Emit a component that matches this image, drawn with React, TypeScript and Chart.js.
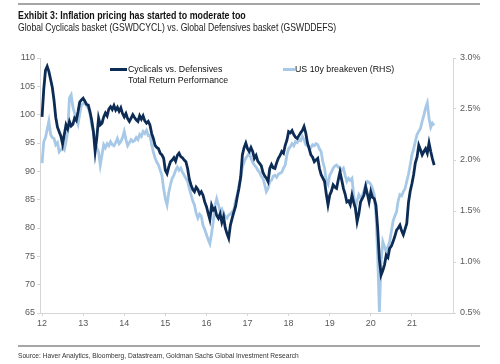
import React, { useEffect, useRef } from "react";
import { Chart, registerables } from "chart.js";

Chart.register(...registerables);

// Semi-monthly observations starting Jan 2012
const START_YEAR = 2012;
const PER_YEAR = 24;

// Cyclicals vs. Defensives total return performance (LHS)
const cyclicalsVsDefensives: number[] = [
  // 2012
  99.6, 104.5, 107.8, 108.5, 107.6, 106.2, 104.8, 102.5, 99.5, 97.8, 97.0, 96.2,
  94.8, 96.5, 98.2, 97.5, 98.8, 98.0, 98.3, 99.4, 99.0, 100.5, 102.2, 102.6,
  // 2013
  102.9, 102.4, 101.8, 101.7, 100.5, 99.0, 97.0, 93.5, 96.0, 99.4, 98.2, 98.5,
  99.6, 100.3, 99.8, 101.0, 101.4, 100.9, 101.6, 100.8, 101.3, 100.6, 101.2, 100.2,
  // 2014
  99.6, 100.2, 99.3, 98.8, 99.4, 100.0, 99.5, 99.1, 98.8, 99.8, 99.2, 99.8,
  98.9, 98.5, 98.8, 98.2, 96.7, 95.8, 94.6, 94.2, 94.0, 93.2, 92.9, 92.3,
  // 2015
  90.2, 89.6, 90.8, 91.7, 92.0, 92.4, 91.8, 92.8, 93.2, 92.6, 92.4, 92.0,
  91.7, 90.5, 88.6, 87.6, 86.8, 86.4, 87.2, 86.8, 86.0, 86.4, 85.8, 84.6,
  // 2016
  83.8, 82.6, 81.5, 84.0, 83.2, 83.5, 82.2, 81.7, 82.5, 81.0, 82.0, 80.0,
  79.0, 78.2, 80.5, 81.7, 82.8, 83.8, 85.5, 87.0, 89.0, 92.9, 94.2, 95.0,
  // 2017
  94.0, 93.5, 94.2, 93.5, 92.3, 92.8, 91.8, 91.4, 91.0, 89.8, 89.2, 88.8,
  88.2, 90.5, 91.2, 90.6, 90.5, 91.5, 92.3, 92.8, 93.5, 93.2, 94.6, 95.5,
  // 2018
  97.0, 96.8, 97.2, 96.5, 96.0, 95.8, 96.3, 96.8, 97.2, 97.9, 96.8, 95.0,
  94.0, 92.9, 92.5, 91.7, 92.0, 92.3, 90.5, 89.4, 88.8, 88.2, 86.0, 84.1,
  // 2019
  85.8, 86.5, 87.6, 87.2, 87.0, 88.5, 89.9, 88.5, 87.0, 86.0, 84.6, 84.8,
  84.1, 85.8, 84.5, 83.5, 81.1, 82.5, 84.6, 85.2, 85.8, 87.3, 86.0, 84.6,
  // 2020
  86.4, 85.4, 85.2, 84.0, 80.0, 74.5, 71.7, 72.5, 73.5, 75.2, 74.8, 76.4,
  76.8, 77.6, 78.5, 79.6, 80.0, 80.5, 79.5, 78.8, 79.8, 80.8, 84.5, 86.5,
  // 2021
  87.8, 89.4, 91.5, 92.5, 94.6, 93.8, 92.9, 93.5, 94.0, 93.2, 95.0, 93.5,
  92.2, 91.1,
];

// US 10y breakeven, % (RHS)
const breakeven10y: number[] = [
  // 2012
  1.97, 2.18, 2.22, 2.30, 2.38, 2.25, 2.22, 2.21, 2.15, 2.17, 2.08, 2.10,
  2.12, 2.10, 2.18, 2.28, 2.61, 2.64, 2.52, 2.46, 2.40, 2.35, 2.45, 2.54,
  // 2013
  2.55, 2.57, 2.53, 2.51, 2.45, 2.34, 2.28, 2.15, 2.12, 2.08, 1.95, 2.05,
  2.15, 2.12, 2.16, 2.14, 2.18, 2.15, 2.14, 2.17, 2.21, 2.16, 2.18, 2.22,
  // 2014
  2.28, 2.20, 2.14, 2.17, 2.20, 2.18, 2.19, 2.22, 2.20, 2.25, 2.23, 2.28,
  2.26, 2.29, 2.24, 2.24, 2.15, 2.08, 2.02, 1.98, 1.95, 1.90, 1.85, 1.72,
  // 2015
  1.62, 1.56, 1.68, 1.76, 1.82, 1.85, 1.90, 1.93, 1.90, 1.92, 1.88, 1.85,
  1.82, 1.79, 1.72, 1.66, 1.60, 1.56, 1.48, 1.43, 1.47, 1.45, 1.36, 1.32,
  // 2016
  1.27, 1.22, 1.18, 1.28, 1.40, 1.55, 1.62, 1.56, 1.50, 1.52, 1.47, 1.45,
  1.43, 1.46, 1.47, 1.49, 1.51, 1.60, 1.66, 1.75, 1.82, 1.93, 1.98, 2.02,
  // 2017
  2.04, 2.07, 2.02, 1.98, 1.95, 1.93, 1.90, 1.88, 1.84, 1.82, 1.76, 1.69,
  1.72, 1.79, 1.80, 1.84, 1.85, 1.83, 1.86, 1.87, 1.88, 1.92, 1.95, 2.05,
  // 2018
  2.11, 2.13, 2.16, 2.14, 2.18, 2.17, 2.20, 2.19, 2.23, 2.20, 2.15, 2.14,
  2.13, 2.12, 2.15, 2.14, 2.16, 2.15, 2.11, 2.08, 1.98, 1.92, 1.79, 1.76,
  // 2019
  1.85, 1.88, 1.92, 1.94, 1.95, 1.93, 1.92, 1.90, 1.92, 1.85, 1.79, 1.82,
  1.80, 1.82, 1.66, 1.53, 1.60, 1.66, 1.63, 1.65, 1.70, 1.76, 1.79, 1.78,
  // 2020
  1.76, 1.72, 1.66, 1.46, 1.07, 0.51, 1.00, 1.20, 1.15, 1.10, 1.15, 1.20,
  1.30, 1.40, 1.45, 1.49, 1.60, 1.66, 1.65, 1.69, 1.72, 1.79, 1.86, 1.95,
  // 2021
  2.05, 2.11, 2.18, 2.25, 2.28, 2.31, 2.38, 2.44, 2.51, 2.56, 2.41, 2.32,
  2.36, 2.34,
];

const yearTicks = [2012, 2013, 2014, 2015, 2016, 2017, 2018, 2019, 2020, 2021];
const leftTicks = [65, 70, 75, 80, 85, 90, 95, 100, 105, 110];
const rightTicks = [0.5, 1.0, 1.5, 2.0, 2.5, 3.0];

const titleText = "Exhibit 3: Inflation pricing has started to moderate too";
const subtitleText = "Global Cyclicals basket (GSWDCYCL) vs. Global Defensives basket (GSWDDEFS)";
const sourceText = "Source: Haver Analytics, Bloomberg, Datastream, Goldman Sachs Global Investment Research";
const darkLabel = ["Cyclicals vs. Defensives", "Total Return Performance"];
const lightLabel = "US 10y breakeven (RHS)";

const DARK = "#0d2c55";
const LIGHT = "#a7c9e7";
const AXIS = "#d6d6d6";
const TICK_COLOR = "#595959";
const SANS = "'Liberation Sans', Arial, sans-serif";

const toPoints = (values: number[]) =>
  values.map((v, i) => ({ x: START_YEAR + i / PER_YEAR, y: v }));

export default function App() {
  const canvasRef = useRef<HTMLCanvasElement | null>(null);

  useEffect(() => {
    document.body.style.margin = "0";
    const canvas = canvasRef.current;
    if (!canvas) return;
    const tickFont = { family: SANS, size: 9 };
    const chart = new Chart(canvas, {
      type: "line",
      data: {
        datasets: [
          {
            label: darkLabel.join(" "),
            data: toPoints(cyclicalsVsDefensives),
            borderColor: DARK,
            borderWidth: 2.8,
            pointRadius: 0,
            yAxisID: "y",
            tension: 0,
          },
          {
            label: lightLabel,
            data: toPoints(breakeven10y),
            borderColor: LIGHT,
            borderWidth: 2.8,
            pointRadius: 0,
            yAxisID: "y1",
            tension: 0,
          },
        ],
      },
      options: {
        animation: false,
        responsive: false,
        maintainAspectRatio: false,
        layout: { padding: { top: 58, left: 0, right: 0, bottom: 0 } },
        plugins: {
          legend: { display: false },
          tooltip: { enabled: false },
          title: { display: false },
        },
        scales: {
          x: {
            type: "linear",
            min: 2011.95,
            max: 2022,
            afterBuildTicks: (s: any) => {
              s.ticks = yearTicks.map((v) => ({ value: v }));
            },
            afterFit: (s: any) => {
              s.height = 51;
            },
            ticks: {
              autoSkip: false,
              maxRotation: 0,
              padding: 2,
              color: TICK_COLOR,
              font: tickFont,
              callback: (v: any) => String(v).slice(2),
            },
            grid: { drawOnChartArea: false, drawTicks: true, tickLength: 3, color: AXIS },
            border: { display: true, color: AXIS },
          },
          y: {
            type: "linear",
            position: "left",
            min: 65,
            max: 110,
            afterBuildTicks: (s: any) => {
              s.ticks = leftTicks.map((v) => ({ value: v }));
            },
            afterFit: (s: any) => {
              s.width = 40;
            },
            ticks: {
              padding: 2,
              color: TICK_COLOR,
              font: tickFont,
              callback: (v: any) => String(v),
            },
            grid: { drawOnChartArea: false, drawTicks: true, tickLength: 3, color: AXIS },
            border: { display: true, color: AXIS },
          },
          y1: {
            type: "linear",
            position: "right",
            min: 0.5,
            max: 3.0,
            afterBuildTicks: (s: any) => {
              s.ticks = rightTicks.map((v) => ({ value: v }));
            },
            afterFit: (s: any) => {
              s.width = 47;
            },
            ticks: {
              padding: 4,
              color: TICK_COLOR,
              font: tickFont,
              callback: (v: any) => Number(v).toFixed(1) + "%",
            },
            grid: { drawOnChartArea: false, drawTicks: true, tickLength: 3, color: AXIS },
            border: { display: true, color: AXIS },
          },
        },
      } as any,
    });
    return () => chart.destroy();
  }, []);

  const abs = (s: React.CSSProperties): React.CSSProperties => ({ position: "absolute", ...s });
  const narrow: React.CSSProperties = {
    fontFamily: SANS,
    whiteSpace: "nowrap",
    transform: "scaleX(0.82)",
    transformOrigin: "0 0",
  };

  return (
    <div style={{ position: "relative", width: 500, height: 364, background: "#fff", overflow: "hidden" }}>
      <canvas ref={canvasRef} width={500} height={364} style={abs({ left: 0, top: 0, width: 500, height: 364 })} />
      <div style={abs({ left: 18, top: 3, width: 462, height: 1.5, background: "#a6a6a6" })} />
      <div
        style={abs({
          ...narrow,
          left: 18,
          top: 9,
          fontWeight: "bold",
          fontSize: 10.8,
          lineHeight: "13px",
          color: "#111",
        })}
      >
        {titleText}
      </div>
      <div
        style={abs({
          ...narrow,
          left: 18,
          top: 21,
          fontSize: 10.5,
          lineHeight: "13px",
          color: "#222",
        })}
      >
        {subtitleText}
      </div>
      <div style={abs({ left: 110, top: 68, width: 17, height: 3, background: DARK })} />
      <div
        style={abs({
          left: 128,
          top: 64,
          fontFamily: SANS,
          fontSize: 8.8,
          lineHeight: "10.5px",
          color: "#111",
          whiteSpace: "nowrap",
        })}
      >
        {darkLabel[0]}
        <br />
        {darkLabel[1]}
      </div>
      <div style={abs({ left: 283, top: 68, width: 12, height: 3, background: LIGHT })} />
      <div
        style={abs({
          left: 295,
          top: 64,
          fontFamily: SANS,
          fontSize: 8.8,
          lineHeight: "10.5px",
          color: "#111",
          whiteSpace: "nowrap",
        })}
      >
        {lightLabel}
      </div>
      <div style={abs({ left: 18, top: 345, width: 462, height: 1.5, background: "#a6a6a6" })} />
      <div
        style={abs({
          ...narrow,
          left: 18,
          top: 351,
          fontSize: 8.1,
          lineHeight: "10px",
          color: "#333",
        })}
      >
        {sourceText}
      </div>
    </div>
  );
}
